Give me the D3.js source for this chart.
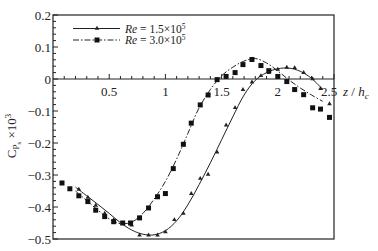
<!DOCTYPE html>
<html><head><meta charset="utf-8">
<script src="https://cdn.jsdelivr.net/npm/d3@7"></script>
<style>
html,body{margin:0;padding:0;background:#fff;}
svg{display:block;}
text{font-family:"Liberation Serif","Times New Roman",serif;fill:#222;}
</style></head>
<body>
<svg id="c" width="378" height="251"></svg>
<script>
// ---- data ----
const seriesNames = ["1.5", "3.0"];
// Re = 1.5e5 : measured points (triangles)
const triX = [0.23,0.31,0.38,0.46,0.54,0.62,0.70,0.77,0.85,0.93,1.00,1.08,1.16,1.23,1.31,1.38,1.46,1.54,1.62,1.69,1.77,1.85,1.92,2.00,2.08,2.15,2.23,2.31,2.38,2.46];
const triY = [-0.345,-0.37,-0.395,-0.42,-0.44,-0.452,-0.457,-0.488,-0.488,-0.488,-0.478,-0.44,-0.42,-0.358,-0.311,-0.298,-0.229,-0.144,-0.09,-0.033,-0.01,0.01,0.02,0.03,0.036,0.035,0.02,0.0,-0.03,-0.078];
// Re = 1.5e5 : fitted curve (solid)
const fit1X = [0.2,0.3,0.4,0.5,0.6,0.7,0.8,0.9,1.0,1.1,1.2,1.3,1.4,1.5,1.6,1.7,1.8,1.9,2.0,2.1,2.2,2.3,2.4];
const fit1Y = [-0.338,-0.365,-0.392,-0.42,-0.449,-0.472,-0.485,-0.487,-0.474,-0.443,-0.393,-0.33,-0.262,-0.19,-0.118,-0.05,-0.004,0.02,0.032,0.034,0.024,0.002,-0.033];
// Re = 3.0e5 : measured points (squares)
const sqX = [0.08,0.15,0.23,0.31,0.38,0.46,0.54,0.62,0.69,0.77,0.85,0.93,1.00,1.07,1.16,1.23,1.31,1.38,1.46,1.54,1.62,1.69,1.77,1.85,1.92,2.00,2.08,2.15,2.23,2.31,2.38,2.46];
const sqY = [-0.325,-0.343,-0.365,-0.383,-0.41,-0.43,-0.446,-0.45,-0.45,-0.434,-0.403,-0.368,-0.358,-0.28,-0.204,-0.138,-0.081,-0.05,-0.002,0.008,0.02,0.045,0.061,0.042,0.026,0.008,-0.008,-0.033,-0.049,-0.09,-0.094,-0.12];
// Re = 3.0e5 : fitted curve (dash-dot)
const fit2X = [0.2,0.3,0.4,0.5,0.6,0.7,0.8,0.9,1.0,1.1,1.2,1.3,1.4,1.5,1.6,1.7,1.8,1.9,2.0,2.1,2.2,2.3,2.4];
const fit2Y = [-0.35,-0.38,-0.41,-0.437,-0.452,-0.447,-0.42,-0.375,-0.32,-0.25,-0.17,-0.09,-0.033,0.01,0.037,0.056,0.064,0.05,0.025,-0.003,-0.028,-0.05,-0.07];
const xTickLabels = ["0.5","1","1.5","2","2.5"];
const yTickLabels = ["0.2","0.1","0","\u22120.1","\u22120.2","\u22120.3","\u22120.4","\u22120.5"];

// ---- layout ----
const svg = d3.select("#c");
const L = 53, R = 334, T = 15, B = 239;
const x = d3.scaleLinear().domain([0, 2.5]).range([L, R]);
const y = d3.scaleLinear().domain([-0.5, 0.2]).range([B, T]);
const ink = "#222";

// frame
svg.append("rect").attr("x", L).attr("y", T).attr("width", R - L).attr("height", B - T)
  .attr("fill", "none").attr("stroke", "#333").attr("stroke-width", 1.3);

// y axis ticks (inward)
const yMinor = d3.range(-0.5, 0.2001, 0.02);
svg.append("g").selectAll("line").data(yMinor).join("line")
  .attr("x1", L).attr("x2", d => L + (Math.abs(Math.round(d * 50) % 5) === 0 ? 5 : 3))
  .attr("y1", d => y(d)).attr("y2", d => y(d)).attr("stroke", ink).attr("stroke-width", 1);
const yMajor = d3.range(0.2, -0.5001, -0.1);
svg.append("g").selectAll("text").data(yMajor).join("text")
  .attr("x", L - 2).attr("y", d => y(d) + 4.5).attr("text-anchor", "end")
  .attr("font-size", 13).text((d, i) => yTickLabels[i]);

// x axis at y=0
svg.append("line").attr("x1", L).attr("x2", R).attr("y1", y(0)).attr("y2", y(0))
  .attr("stroke", ink).attr("stroke-width", 1.2);
const xMinor = d3.range(0.1, 2.5001, 0.1);
svg.append("g").selectAll("line").data(xMinor).join("line")
  .attr("x1", d => x(d)).attr("x2", d => x(d)).attr("y1", y(0))
  .attr("y2", d => y(0) - (Math.round(d * 10) % 5 === 0 ? 5 : 3))
  .attr("stroke", ink).attr("stroke-width", 1);
const xMajor = [0.5, 1, 1.5, 2, 2.5];
svg.append("g").selectAll("text").data(xMajor).join("text")
  .attr("x", d => x(d) - (d === 2.5 ? 5 : 0)).attr("y", y(0) + 17).attr("text-anchor", "middle")
  .attr("font-size", 13).text((d, i) => xTickLabels[i]);
// x axis title
const xt = svg.append("text").attr("x", 343).attr("y", y(0) + 17).attr("font-size", 13);
xt.append("tspan").attr("font-style", "italic").text("z");
xt.append("tspan").text(" / ");
xt.append("tspan").attr("font-style", "italic").text("h");
xt.append("tspan").attr("font-style", "italic").attr("font-size", 9).attr("dy", 3).text("c");

// y axis title
const yt = svg.append("text").attr("transform", "translate(16,136) rotate(-90)")
  .attr("text-anchor", "middle").attr("font-size", 13);
yt.append("tspan").text("C");
yt.append("tspan").attr("font-size", 9).attr("dy", 3).text("P");
yt.append("tspan").attr("font-size", 7).attr("dy", 2).text("s");
yt.append("tspan").attr("dy", -5).text(" \u00d710");
yt.append("tspan").attr("font-size", 9).attr("dy", -5).text("3");

// ---- curves ----
const line = d3.line().x(d => x(d[0])).y(d => y(d[1])).curve(d3.curveCatmullRom.alpha(0.5));
const fit1 = fit1X.map((v, i) => [v, fit1Y[i]]);
const fit2 = fit2X.map((v, i) => [v, fit2Y[i]]);
svg.append("path").datum(fit1).attr("d", line).attr("fill", "none")
  .attr("stroke", ink).attr("stroke-width", 1);
svg.append("path").datum(fit2).attr("d", line).attr("fill", "none")
  .attr("stroke", ink).attr("stroke-width", 1).attr("stroke-dasharray", "6,2,1.5,2");

// markers
const tri = d3.symbol().type(d3.symbolTriangle).size(9);
svg.append("g").selectAll("path").data(triX.map((v, i) => [v, triY[i]])).join("path")
  .attr("d", tri).attr("transform", d => `translate(${x(d[0])},${y(d[1])})`).attr("fill", ink);
svg.append("g").selectAll("rect").data(sqX.map((v, i) => [v, sqY[i]])).join("rect")
  .attr("x", d => x(d[0]) - 2.5).attr("y", d => y(d[1]) - 2.5)
  .attr("width", 5).attr("height", 5).attr("fill", "#111");

// ---- legend ----
const lg = svg.append("g");
const rows = [28.5, 40];
rows.forEach((ry, i) => {
  lg.append("line").attr("x1", 73).attr("x2", 120).attr("y1", ry).attr("y2", ry)
    .attr("stroke", ink).attr("stroke-width", 1)
    .attr("stroke-dasharray", i === 1 ? "6,2,1.5,2" : null);
  if (i === 0) {
    lg.append("path").attr("d", tri).attr("transform", `translate(97,${ry})`).attr("fill", ink);
  } else {
    lg.append("rect").attr("x", 94.5).attr("y", ry - 2.5).attr("width", 5).attr("height", 5).attr("fill", "#111");
  }
  const t = lg.append("text").attr("x", 125).attr("y", ry + 4).attr("font-size", 11.5);
  t.append("tspan").attr("font-style", "italic").text("Re");
  t.append("tspan").text(" = " + seriesNames[i] + "\u00d710");
  t.append("tspan").attr("font-size", 7.5).attr("dy", -4).text("5");
});
</script>
</body></html>
